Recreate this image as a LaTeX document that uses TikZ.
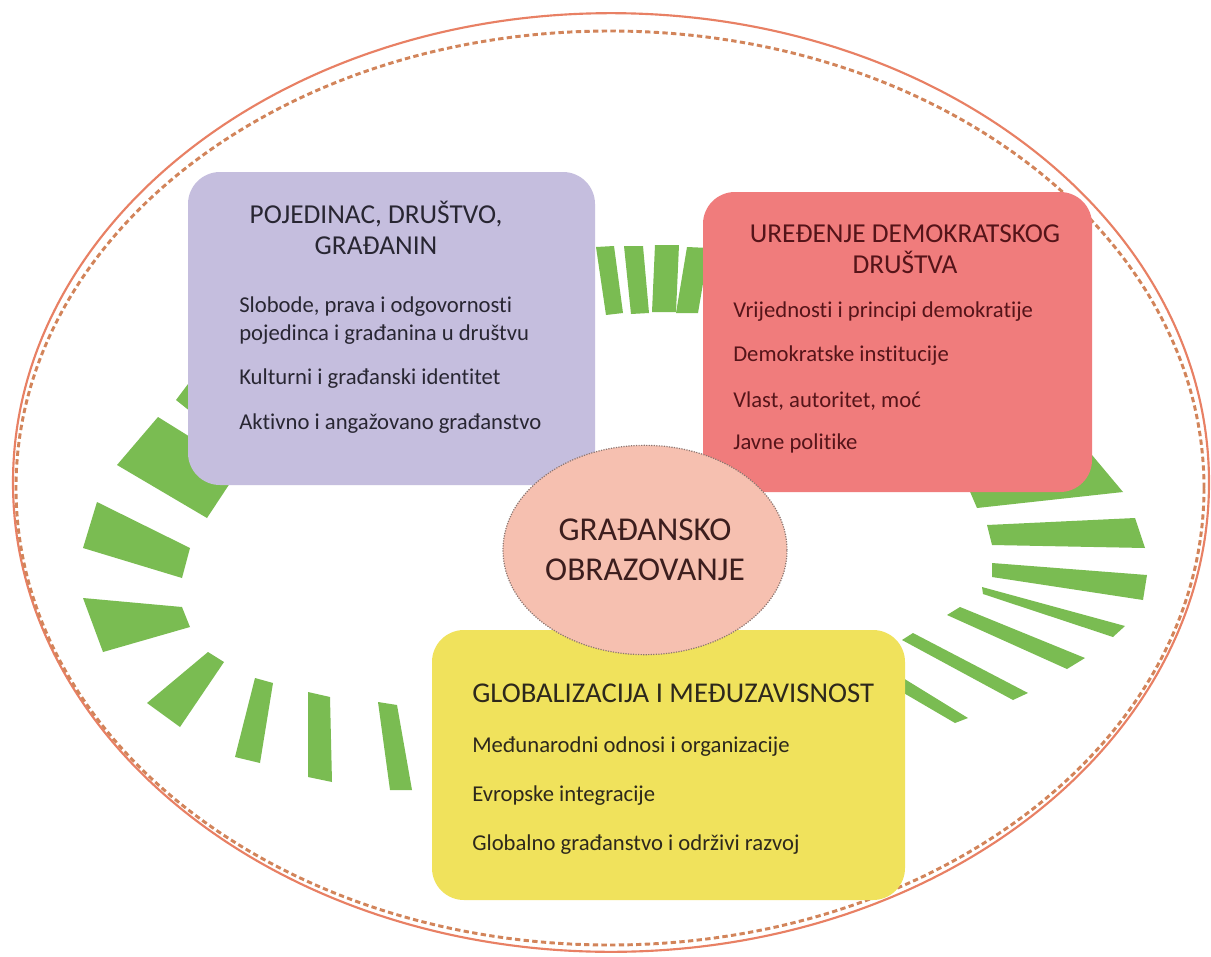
\documentclass[tikz,border=0pt]{standalone}
\usepackage{fontspec}
\setmainfont{Carlito}[Ligatures=NoCommon]
\usetikzlibrary{shapes.geometric}
\definecolor{ringsolid}{RGB}{232,128,100}
\definecolor{ringdash}{RGB}{210,132,90}
\definecolor{raygreen}{RGB}{122,188,82}
\definecolor{purp}{RGB}{197,190,222}
\definecolor{redb}{RGB}{240,124,124}
\definecolor{yelb}{RGB}{240,226,92}
\definecolor{salm}{RGB}{246,192,176}
\definecolor{coreedge}{RGB}{140,118,112}
\definecolor{txtp}{RGB}{40,38,50}
\definecolor{txtr}{RGB}{85,20,25}
\definecolor{txty}{RGB}{45,40,28}
\definecolor{txtc}{RGB}{60,30,30}
\begin{document}
\begin{tikzpicture}[x=0.75pt,y=-0.75pt,
  ttl/.style={font=\fontsize{20.5}{23}\selectfont, align=center, inner sep=0pt},
  item/.style={font=\fontsize{17}{20}\selectfont, anchor=west, inner sep=0pt},
  panel/.style={rounded corners=24pt},
  ray/.style={fill=raygreen}]
\useasboundingbox (0,0) rectangle (1211,957);
\fill[white] (0,0) rectangle (1211,957);
% outer rings
\draw[ringsolid, line width=1.6pt] (611,482.5) ellipse [x radius=448.5pt, y radius=352pt];
\draw[ringdash, line width=2.2pt, dash pattern=on 4pt off 2.5pt] (610,488) ellipse [x radius=445.5pt, y radius=342.75pt];
% green rays - top
\fill[ray] (596,247) -- (614,246) -- (623,313) -- (606,315) -- cycle;
\fill[ray] (624,246) -- (643,246) -- (649,313) -- (631,314) -- cycle;
\fill[ray] (655,245) -- (679,245) -- (676,312) -- (652,312) -- cycle;
\fill[ray] (687,247) -- (709,248) -- (698,313) -- (676,313) -- cycle;
% left
\fill[ray] (176,400) -- (188,384) -- (250,425) -- (235,447) -- cycle;
\fill[ray] (117,465) -- (158,417) -- (240,468) -- (207,518) -- cycle;
\fill[ray] (97,502) -- (190,548) -- (182,578) -- (83,548) -- cycle;
\fill[ray] (83,598) -- (182,607) -- (190,627) -- (103,652) -- cycle;
\fill[ray] (208,652) -- (224,662) -- (180,727) -- (147,703) -- cycle;
\fill[ray] (255,678) -- (273,683) -- (260,763) -- (235,757) -- cycle;
\fill[ray] (308,692) -- (330,697) -- (332,782) -- (308,777) -- cycle;
\fill[ray] (378,702) -- (397,705) -- (412,790) -- (390,790) -- cycle;
% right
\fill[ray] (965,480) -- (1092,455) -- (1123,492) -- (977,508) -- cycle;
\fill[ray] (987,525) -- (1135,518) -- (1145,548) -- (992,545) -- cycle;
\fill[ray] (992,563) -- (1147,575) -- (1143,600) -- (992,577) -- cycle;
\fill[ray] (982,587) -- (1125,626) -- (1113,637) -- (983,594) -- cycle;
\fill[ray] (960,607) -- (1085,658) -- (1067,669) -- (947,615) -- cycle;
\fill[ray] (913,633) -- (1028,693) -- (1013,700) -- (902,640) -- cycle;
\fill[ray] (890,670) -- (968,718) -- (955,723) -- (890,685) -- cycle;
% panels
\fill[purp, panel] (188,172) rectangle (595,485);
\fill[redb, panel] (703,192) rectangle (1092,492);
\fill[yelb, panel] (432,630) rectangle (905,900);
% purple panel text
\node[ttl, text=txtp] (pt) at (376,228) {POJEDINAC, DRUŠTVO,\\GRAĐANIN};
\node[item, text=txtp] (p1) at (239,307) {Slobode, prava i odgovornosti};
\node[item, text=txtp] (p2) at (239,335) {pojedinca i građanina u društvu};
\node[item, text=txtp] (p3) at (239,379) {Kulturni i građanski identitet};
\node[item, text=txtp] (p4) at (239,424) {Aktivno i angažovano građanstvo};
% red panel text
\node[ttl, text=txtr] (rt) at (905,249) {UREĐENJE DEMOKRATSKOG\\DRUŠTVA};
\node[item, text=txtr] (r1) at (733,312) {Vrijednosti i principi demokratije};
\node[item, text=txtr] (r2) at (733,356) {Demokratske institucije};
\node[item, text=txtr] (r3) at (733,401) {Vlast, autoritet, moć};
\node[item, text=txtr] (r4) at (733,443) {Javne politike};
% yellow panel text
\node[ttl, font=\fontsize{21.5}{24}\selectfont, anchor=west, text=txty] (yt) at (472,693) {GLOBALIZACIJA I MEĐUZAVISNOST};
\node[item, text=txty] (y1) at (472,747) {Međunarodni odnosi i organizacije};
\node[item, text=txty] (y2) at (472,796) {Evropske integracije};
\node[item, text=txty] (y3) at (472,845) {Globalno građanstvo i održivi razvoj};
% core
\node[ellipse, fill=salm, draw=coreedge, densely dotted, line width=0.9pt,
      minimum width=213pt, minimum height=157pt, inner sep=0pt] (core) at (645,550) {};
\node[font=\fontsize{25}{30}\selectfont, align=center, text=txtc, inner sep=0pt] (coretxt) at (core.center) {GRAĐANSKO\\OBRAZOVANJE};
\end{tikzpicture}
\end{document}
